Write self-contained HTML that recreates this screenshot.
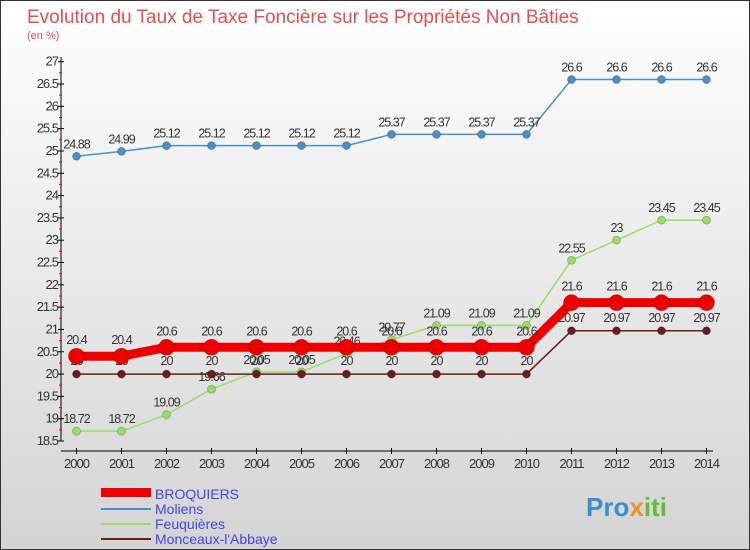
<!DOCTYPE html>
<html><head><meta charset="utf-8"><style>
body{margin:0;}
#c{width:750px;height:550px;position:relative;background:linear-gradient(#ffffff,#d4d4d4);border:1px solid #333;box-sizing:border-box;font-family:"Liberation Sans",sans-serif;overflow:hidden}
svg text{font-family:"Liberation Sans",sans-serif}
</style></head><body>
<div id="c">
<svg id="s" width="750" height="550" xmlns="http://www.w3.org/2000/svg">
<text x="26" y="22" font-size="19" fill="#e05050">Evolution du Taux de Taxe Foncière sur les Propriétés Non Bâties</text>
<text x="26" y="38" font-size="11" fill="#e05050">(en %)</text>
<g id="g"></g>
<g>
<rect x="100" y="487" width="50" height="9" fill="#ee0000"/>
<text x="154" y="498" font-size="14" fill="#4444dd">BROQUIERS</text>
<rect x="100" y="507" width="50" height="2" fill="#4a90c8"/>
<text x="154" y="513" font-size="14" fill="#4444dd">Moliens</text>
<rect x="100" y="522" width="50" height="2" fill="#99dd66"/>
<text x="154" y="528" font-size="14" fill="#4444dd">Feuquières</text>
<rect x="100" y="537" width="50" height="2" fill="#6b1c1c"/>
<text x="154" y="543" font-size="14" fill="#4444dd">Monceaux-l'Abbaye</text>
</g>
<text x="585" y="515" font-size="26" font-weight="bold" fill="#3a8fd0">Pro<tspan fill="#f09020">x</tspan><tspan fill="#66bb33">iti</tspan></text>
</svg>
</div>
<script>
const years=[2000,2001,2002,2003,2004,2005,2006,2007,2008,2009,2010,2011,2012,2013,2014];
const yTicks=[18.5,19,19.5,20,20.5,21,21.5,22,22.5,23,23.5,24,24.5,25,25.5,26,26.5,27];
const broquiers=[20.4,20.4,20.6,20.6,20.6,20.6,20.6,20.6,20.6,20.6,20.6,21.6,21.6,21.6,21.6];
const moliens=[24.88,24.99,25.12,25.12,25.12,25.12,25.12,25.37,25.37,25.37,25.37,26.6,26.6,26.6,26.6];
const feuquieres=[18.72,18.72,19.09,19.66,20.05,20.05,20.46,20.77,21.09,21.09,21.09,22.55,23,23.45,23.45];
const monceaux=[20,20,20,20,20,20,20,20,20,20,20,20.97,20.97,20.97,20.97];
const NS="http://www.w3.org/2000/svg",g=document.getElementById('g');
const X=i=>75.5+i*45, Y=v=>440-(v-18.5)*(379.3/8.5);
function mk(t,a,txt){const e=document.createElementNS(NS,t);for(const k in a)e.setAttribute(k,a[k]);if(txt!=null)e.textContent=txt;g.appendChild(e);return e;}
let e=mk('line',{x1:60,y1:56,x2:60,y2:440,stroke:'#000'});


e=mk('line',{x1:60,y1:450,x2:712,y2:450,stroke:'#000'});


yTicks.forEach(v=>{const y=Y(v);
 e=mk('line',{x1:57,y1:y,x2:63,y2:y,stroke:'#000'});
 
 
 if(v<27){e=mk('line',{x1:58,y1:Y(v+0.25),x2:61,y2:Y(v+0.25),stroke:'#e00'});
 
 }
 e=mk('text',{x:57,y:y+4,'font-size':13,'text-anchor':'end',fill:'#333','letter-spacing':'-1'},String(v));
 
 
});
years.forEach((yr,i)=>{
 e=mk('line',{x1:X(i),y1:447,x2:X(i),y2:453,stroke:'#000'});
 
 
 e=mk('text',{x:X(i),y:467,'font-size':13,'text-anchor':'middle',fill:'#333','letter-spacing':'-1'},String(yr));
 
 
});
function series(d,name,col,w,r,lblOff){
 e=mk('polyline',{points:d.map((v,i)=>X(i)+','+Y(v)).join(' '),fill:'none',stroke:col,'stroke-width':w});
 
 
 d.forEach((v,i)=>{
  e=mk('circle',{cx:X(i),cy:Y(v),r:r,fill:col,stroke:'rgba(0,0,0,0.25)','stroke-width':0.8});
  
  
  e=mk('text',{x:X(i),y:Y(v)+lblOff,'font-size':12.5,'text-anchor':'middle',fill:'#333','letter-spacing':'-1'},String(v));
  
  
 });
}
series(moliens,'moliens','#4a90c8',1.5,4,-8);
series(feuquieres,'feuquieres','#99dd66',1.5,4,-8);
series(monceaux,'monceaux','#6b1c1c',1.5,4,-9);
series(broquiers,'broquiers','#ee0000',9,8,-12);
</script>
</body></html>
